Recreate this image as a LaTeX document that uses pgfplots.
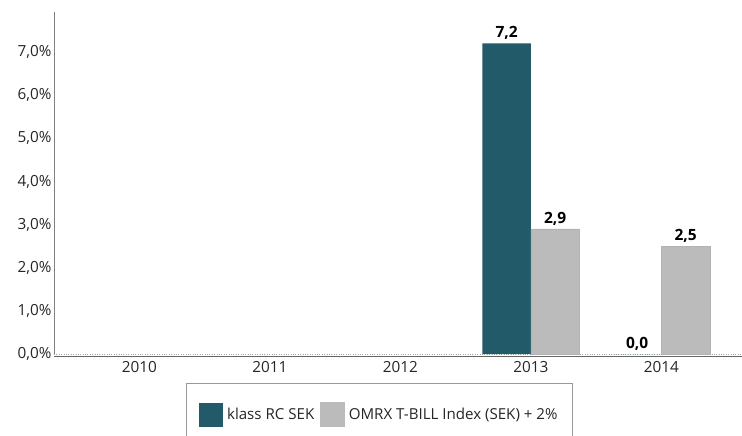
\documentclass[border=0pt]{standalone}
\usepackage{fontspec}
\setmainfont{Open Sans}
\usepackage{pgfplots}
\pgfplotsset{compat=1.18}
\definecolor{tealbar}{HTML}{235A69}
\definecolor{graybar}{HTML}{BBBBBB}
\begin{document}
\begin{tikzpicture}
\clip (-54bp,-82bp) rectangle (688bp,354bp);
\begin{axis}[
  scale only axis, width=688bp, height=342bp,
  ymin=0, ymax=7.93, xmin=-0.655, xmax=4.617,
  ybar=0pt, bar width=48.5bp,
  xtick={0,1,2,3,4}, xticklabels={2010,2011,2012,2013,2014},
  ytick={0,1,2,3,4,5,6,7},
  /pgf/number format/assume math mode=true,
  yticklabel={\pgfmathprintnumber[fixed,fixed zerofill,precision=1,use comma]{\tick}\%},
  axis x line=bottom, axis y line=left,
  axis line style={-},
  x axis line style={black!60, line width=1bp},
  y axis line style={black!50, line width=0.8bp},
  axis x line shift=2bp,
  major tick length=0pt,
  tick label style={font=\fontsize{15.3bp}{18bp}\selectfont, text=black!85},
  xtick style={draw=none}, ytick style={draw=none},
  yticklabel style={xshift=1bp},
  xticklabel style={yshift=-2bp},
  nodes near coords={\pgfmathprintnumber[fixed,fixed zerofill,precision=1,use comma]{\pgfplotspointmeta}},
  nodes near coords style={font=\bfseries\fontsize{15.5bp}{18bp}\selectfont, text=black},
  legend columns=2,
  legend style={at={(0.1914,-0.0848)}, anchor=north west, draw=black!40, line width=0.8bp,
    font=\fontsize{15.1bp}{18bp}\selectfont, text=black!85,
    inner xsep=13bp, inner ysep=19bp,
    /tikz/every odd column/.append style={column sep=2bp},
    /tikz/every even column/.append style={column sep=4bp}},
  legend cell align=left,
]
\draw[black!35, dotted] (axis cs:-0.655,0) -- (axis cs:4.617,0);
\addplot[fill=tealbar, draw=none,
  legend image code/.code={\fill[tealbar] (0bp,-12bp) rectangle (24bp,12bp);}]
  coordinates {(3,7.2) (4,0.0)};
\addlegendentry{klass RC SEK}
\addplot[fill=graybar, draw=black!30, line width=0.5bp,
  legend image code/.code={\fill[graybar] (0bp,-12bp) rectangle (24bp,12bp);}]
  coordinates {(3,2.9) (4,2.5)};
\addlegendentry{OMRX T-BILL Index (SEK) + 2\%}
\end{axis}
\end{tikzpicture}
\end{document}
